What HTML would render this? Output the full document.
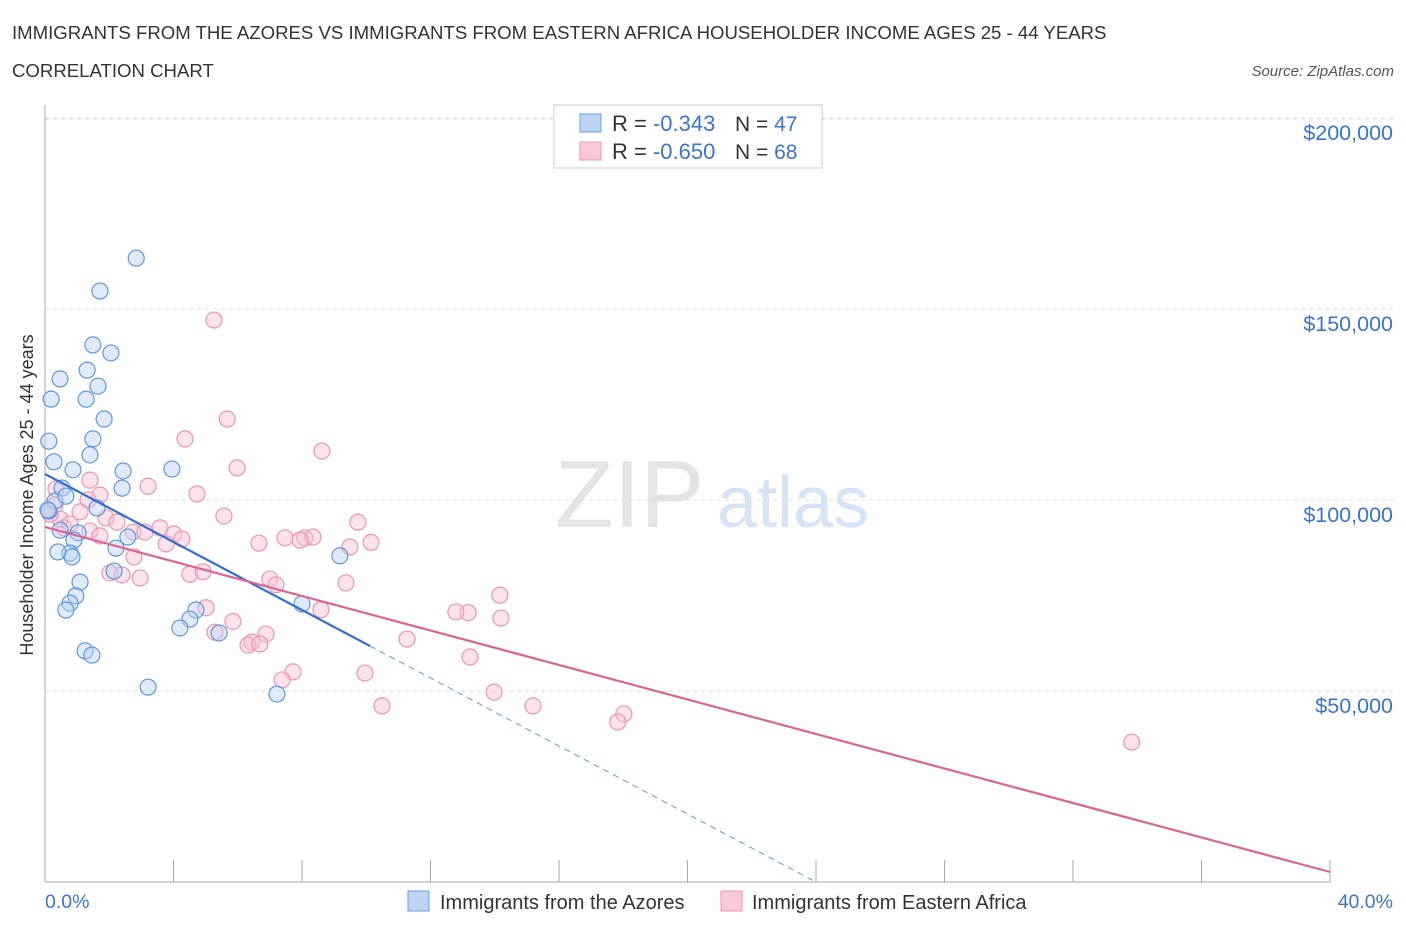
<!DOCTYPE html>
<html><head><meta charset="utf-8">
<style>
body{margin:0;background:#fff;font-family:"Liberation Sans",sans-serif;}
svg text{font-family:"Liberation Sans",sans-serif;}
</style></head>
<body>
<svg id="chart" width="1406" height="930" xmlns="http://www.w3.org/2000/svg">
<text x="12" y="39" font-size="18.6" fill="#333">IMMIGRANTS FROM THE AZORES VS IMMIGRANTS FROM EASTERN AFRICA HOUSEHOLDER INCOME AGES 25 - 44 YEARS</text>
<text x="12" y="77" font-size="18.6" fill="#333">CORRELATION CHART</text>
<text x="1394" y="76" font-size="15" fill="#555" font-style="italic" text-anchor="end">Source: ZipAtlas.com</text>
<text x="555" y="527" font-size="96" fill="#e4e4e4" font-family="Liberation Serif">ZIP</text>
<text x="717" y="527" font-size="72" fill="#d6e4f5">atlas</text>
<g id="grid"></g>
<g id="axes"></g>
<g id="marks"></g>
<text transform="translate(33,495) rotate(-90)" font-size="18" fill="#333" text-anchor="middle">Householder Income Ages 25 - 44 years</text>
<text x="45" y="908" font-size="19.5" fill="#3a74d0">0.0%</text>
<text x="1393" y="908" font-size="19.5" fill="#3a74d0" text-anchor="end">40.0%</text>
<g>
<rect x="554" y="105" width="268" height="63" fill="#fff" stroke="#ccc"/>
<rect x="580" y="114" width="21" height="18" fill="#bcd5f5" stroke="#6a9fe0"/>
<rect x="580" y="142" width="21" height="18" fill="#f9c9d7" stroke="#ec94b0"/>
<text x="612" y="131" font-size="22" fill="#333">R = <tspan fill="#3a74d0">-0.343</tspan></text>
<text x="735" y="131" font-size="21" fill="#333">N = <tspan fill="#3a74d0">47</tspan></text>
<text x="612" y="159" font-size="22" fill="#333">R = <tspan fill="#3a74d0">-0.650</tspan></text>
<text x="735" y="159" font-size="21" fill="#333">N = <tspan fill="#3a74d0">68</tspan></text>
</g>
<g>
<rect x="408" y="891" width="21" height="20" fill="#bcd5f5" stroke="#6a9fe0"/>
<text x="440" y="909" font-size="20" fill="#333">Immigrants from the Azores</text>
<rect x="721" y="891" width="21" height="20" fill="#f9c9d7" stroke="#ec94b0"/>
<text x="752" y="909" font-size="20" fill="#333">Immigrants from Eastern Africa</text>
</g>
</svg>
<script>
const yTicks=[50000,100000,150000,200000];
const yTickLabels=["$50,000","$100,000","$150,000","$200,000"];
const xTicks=[0,4,8,12,16,20,24,28,32,36,40];
const blueX=[2.84,1.71,1.49,2.05,0.47,1.31,1.65,0.19,1.28,1.84,0.12,1.49,0.28,1.40,0.87,2.43,3.95,0.53,2.40,0.31,0.65,1.62,0.12,0.47,1.03,0.90,2.58,2.21,0.78,0.84,0.40,1.09,2.15,0.96,0.78,0.65,4.70,4.51,4.20,5.42,8.00,9.18,1.25,1.46,3.21,7.22,0.09];
const blueY=[163300,154700,140600,138500,131700,134000,129800,126400,126400,121200,115400,116000,110000,111800,107900,107600,108100,103100,103100,99700,101000,97900,97100,92100,91400,89500,90300,87400,86100,85100,86400,78500,81400,74900,73000,71200,71200,68800,66500,65200,72800,85400,60500,59400,51000,49200,97400];
const pinkX=[5.26,5.67,4.36,8.62,5.98,1.40,3.21,4.73,1.71,1.34,0.31,1.09,5.57,1.90,9.74,2.24,3.58,4.01,0.59,1.40,2.74,3.11,4.26,3.77,6.66,7.47,8.09,8.34,7.94,10.15,9.49,2.77,2.02,2.40,2.96,4.51,4.92,7.00,7.19,9.37,5.01,5.85,8.59,13.17,12.79,14.19,5.29,6.44,6.88,6.32,6.69,11.27,13.23,7.72,7.38,9.96,13.98,10.49,15.19,18.02,17.83,33.83,14.16,1.71,0.47,0.16,0.78,0.34];
const pinkY=[147100,121200,116000,112800,108400,105200,103600,101600,101300,100000,98700,96900,95800,95300,94200,94200,92700,91100,92700,91900,91600,91600,89800,88500,88700,90100,90100,90300,89500,88900,87700,85100,80900,80400,79600,80600,81200,79300,77800,78300,71800,68200,71300,70500,70700,69100,65400,62800,64900,62000,62300,63600,58900,55000,52900,54700,49700,46100,46100,44000,41900,36600,75100,90600,95000,96300,93700,102900];
const X0=45,X1=1330,Y0=882,PER=191/50000;
const xs=v=>X0+(v/40)*(X1-X0), ys=v=>Y0-v*PER;
const NS="http://www.w3.org/2000/svg";
function mk(tag,attrs,parent){const e=document.createElementNS(NS,tag);for(const k in attrs)e.setAttribute(k,attrs[k]);parent.appendChild(e);return e;}
const grid=document.getElementById('grid'),axes=document.getElementById('axes'),marks=document.getElementById('marks');
yTicks.forEach((t,i)=>{
 const l=mk('line',{x1:X0,x2:1393,y1:ys(t),y2:ys(t),stroke:'#ddd','stroke-dasharray':'4,4'},grid);
 
 
 const tx=mk('text',{x:1393,y:ys(t)+22,'font-size':21.5,fill:'#3a74d0','text-anchor':'end'},axes);
 tx.textContent=yTickLabels[i];
 
 
});
const topLine=mk('line',{x1:X0,x2:1393,y1:119,y2:119,stroke:'#ddd','stroke-dasharray':'4,4'},grid);


const ya=mk('line',{x1:X0,x2:X0,y1:105,y2:Y0,stroke:'#aaa'},axes);


const xa=mk('line',{x1:X0,x2:X1,y1:Y0,y2:Y0,stroke:'#aaa'},axes);


xTicks.forEach(t=>{
 const l=mk('line',{x1:xs(t),x2:xs(t),y1:Y0,y2:Y0-22,stroke:'#aaa'},axes);
 
 
});
function pts(X,Y,fill,stroke,name){
 X.forEach((x,i)=>{
  const c=mk('circle',{cx:xs(x),cy:ys(Y[i]),r:8,fill:fill,'fill-opacity':0.45,stroke:stroke,'stroke-width':1.2},marks);
  
  
 });
}
pts(pinkX,pinkY,'#f9c0d2','#ec94b0','eastern-africa-point');
pts(blueX,blueY,'#b7d1f3','#5f97de','azores-point');
const bl=mk('line',{x1:xs(0),y1:474,x2:370,y2:646,stroke:'#2f6fd6','stroke-width':2.2},marks);


const bd=mk('line',{x1:370,y1:646,x2:816,y2:882,stroke:'#5f97de','stroke-width':1,'stroke-dasharray':'6,5'},marks);


const pl=mk('line',{x1:xs(0),y1:527,x2:X1,y2:872,stroke:'#e0628f','stroke-width':2.2},marks);


</script>
</body></html>
